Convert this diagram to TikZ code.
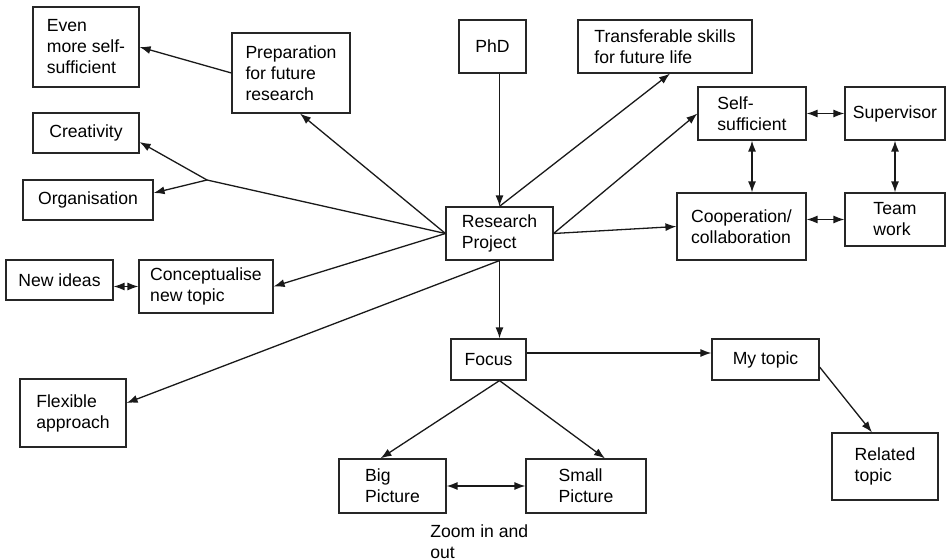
\documentclass[tikz,border=0pt]{standalone}
\usepackage{fontspec}
\setmainfont{Liberation Sans}
\usetikzlibrary{arrows.meta}

\tikzset{
  mapbox/.style={draw=black!85, line width=0.6pt, align=left, inner sep=2pt},
  link/.style={line width=0.65pt, draw=black!90},
  tip/.style={link, -{Latex[length=5.5pt,width=4pt]}},
  both/.style={link, {Latex[length=5.5pt,width=4pt]}-{Latex[length=5.5pt,width=4pt]}}
}

\begin{document}
\begin{tikzpicture}[x=0.5pt, y=-0.5pt, font=\fontsize{8.8}{10.5}\selectfont]
    \useasboundingbox (0,0) rectangle (946,560);

    % left side
    \node[mapbox, minimum width=53pt, minimum height=40pt] (even) at (86,47) {Even\\more self-\\sufficient};
    \node[mapbox, minimum width=59pt, minimum height=40pt] (prep) at (291,73) {Preparation\\for future\\research};
    \node[mapbox, minimum width=53pt, minimum height=20pt] (creat) at (86,133) {Creativity};
    \node[mapbox, minimum width=65pt, minimum height=20pt] (organ) at (88,200) {Organisation};
    \node[mapbox, minimum width=53.5pt, minimum height=20pt] (newid) at (59.5,280) {New ideas};
    \node[mapbox, minimum width=67pt, minimum height=26.5pt] (concept) at (206,286.5) {Conceptualise\\new topic};
    \node[mapbox, minimum width=53pt, minimum height=34pt] (flex) at (73,413) {Flexible\\approach};

    % centre
    \node[mapbox, minimum width=33.5pt, minimum height=26.5pt] (phd) at (492.5,46.5) {PhD};
    \node[mapbox, minimum width=87pt, minimum height=26.5pt] (transf) at (665,46.5) {Transferable skills\\for future life};
    \node[mapbox, minimum width=53.5pt, minimum height=26.5pt] (rp) at (499.5,233.5) {Research\\Project};

    % right side
    \node[mapbox, minimum width=54pt, minimum height=26.5pt] (selfs) at (752,113.5) {Self-\\sufficient};
    \node[mapbox, minimum width=50pt, minimum height=26.5pt] (superv) at (895,113.5) {Supervisor};
    \node[mapbox, minimum width=64.5pt, minimum height=33.5pt] (coop) at (741.5,226.5) {Cooperation/\\collaboration};
    \node[mapbox, minimum width=50pt, minimum height=26.5pt] (team) at (895,219.5) {Team\\work};

    % bottom
    \node[mapbox, minimum width=37.5pt, minimum height=20.5pt] (focus) at (488.5,359.5) {Focus};
    \node[mapbox, minimum width=53.5pt, minimum height=20.5pt] (mytopic) at (765.5,359.5) {My topic};
    \node[mapbox, minimum width=53pt, minimum height=33.5pt] (related) at (885,466.5) {Related\\topic};
    \node[mapbox, minimum width=53.5pt, minimum height=27pt] (big) at (392.5,486) {Big\\Picture};
    \node[mapbox, minimum width=60pt, minimum height=27pt] (small) at (586,486) {Small\\Picture};
    \node[align=left, anchor=north west, inner sep=0pt] (zoomtxt) at (430,524) {Zoom in and\\out};

    \coordinate (fork) at (207,180);
    \coordinate (fbot) at (focus.south -| rp.south);

    \draw[tip] (phd.south -| rp.north) -- (rp.north);
    \draw[tip] (rp.north) -- ([xshift=2.5pt]transf.south);
    \draw[tip] (rp.east) -- (selfs.west);
    \draw[tip] (rp.east) -- (coop.west);
    \draw[both] (selfs.east) -- (superv.west);
    \draw[both] (selfs.south) -- (selfs.south |- coop.north);
    \draw[both] (superv.south) -- (team.north);
    \draw[both] (coop.east |- team.west) -- (team.west);

    \draw[tip] (rp.west) -- ([xshift=4.5pt]prep.south);
    \draw[tip] (prep.west) -- (even.east);
    \draw[link] (rp.west) -- (fork);
    \draw[tip] (fork) -- ([yshift=-4.5pt]creat.east);
    \draw[tip] (fork) -- ([yshift=3.5pt]organ.east);
    \draw[tip] (rp.west) -- (concept.east);
    \draw[both] (newid.east |- concept.west) -- (concept.west);
    \draw[tip] (rp.south) -- ([yshift=5pt]flex.east);

    \draw[tip] (rp.south) -- (rp.south |- focus.north);
    \draw[tip] ([yshift=3.25pt]focus.east) -- ([yshift=3.25pt]mytopic.west);
    \draw[tip] ([yshift=-3.75pt]mytopic.east) -- ([xshift=-6.5pt]related.north);
    \draw[tip] (fbot) -- ([xshift=-6pt]big.north);
    \draw[tip] (fbot) -- ([xshift=9.5pt]small.north);
    \draw[both] (big.east) -- (small.west);
\end{tikzpicture}
\end{document}
